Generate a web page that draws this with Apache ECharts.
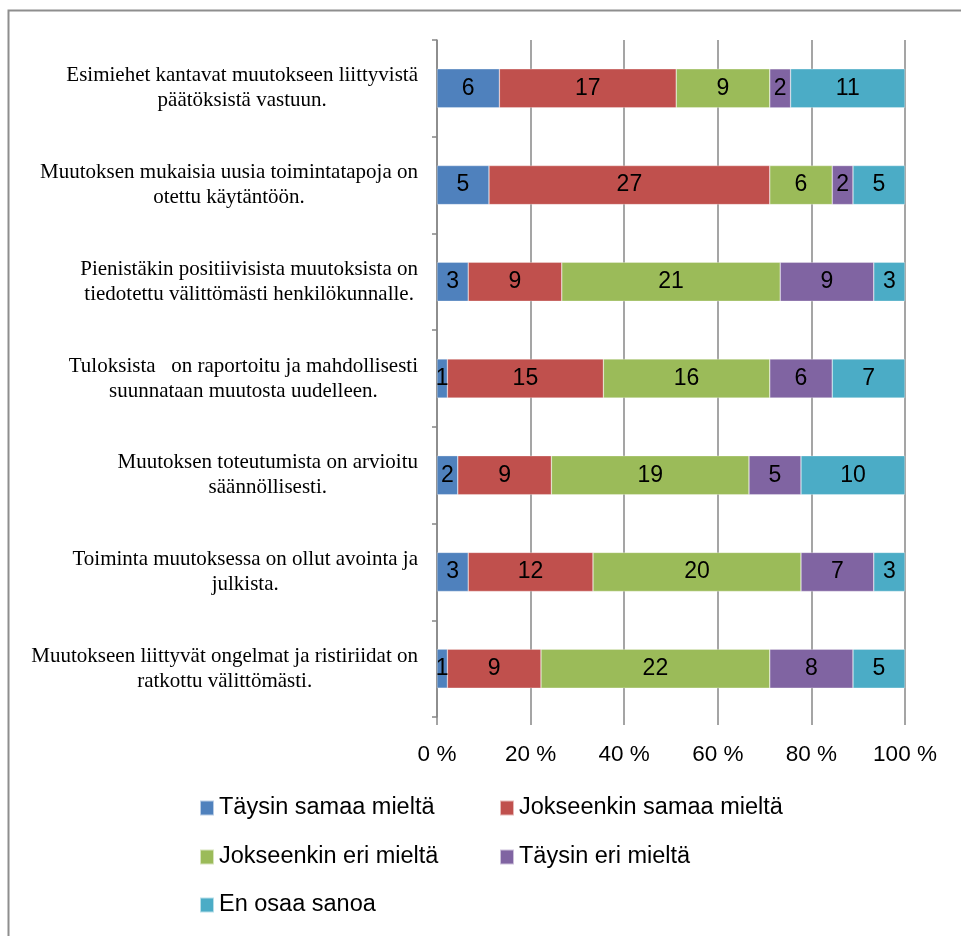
<!DOCTYPE html>
<html>
<head>
<meta charset="utf-8">
<script src="https://cdn.jsdelivr.net/npm/echarts@6/dist/echarts.min.js"></script>
<style>
  html, body { margin: 0; padding: 0; background: #fff; }
  #app { width: 961px; height: 936px; }
</style>
</head>
<body>
<div id="app"></div>
<script>
// statements, top to bottom
var categories = [
    'Esimiehet kantavat muutokseen liittyvistä\npäätöksistä vastuun.',
    'Muutoksen mukaisia uusia toimintatapoja on\notettu käytäntöön.',
    'Pienistäkin positiivisista muutoksista on\ntiedotettu välittömästi henkilökunnalle.',
    'Tuloksista   on raportoitu ja mahdollisesti\nsuunnataan muutosta uudelleen.',
    'Muutoksen toteutumista on arvioitu\nsäännöllisesti.',
    'Toiminta muutoksessa on ollut avointa ja\njulkista.',
    'Muutokseen liittyvät ongelmat ja ristiriidat on\nratkottu välittömästi.'
];

var seriesNames = ['Täysin samaa mieltä', 'Jokseenkin samaa mieltä', 'Jokseenkin eri mieltä', 'Täysin eri mieltä', 'En osaa sanoa'];
var colors = ['#4F81BD', '#C0504D', '#9BBB59', '#8064A2', '#4BACC6'];

// answer counts per statement
var taysinSamaa     = [6, 5, 3, 1, 2, 3, 1];
var jokseenkinSamaa = [17, 27, 9, 15, 9, 12, 9];
var jokseenkinEri   = [9, 6, 21, 16, 19, 20, 22];
var taysinEri       = [2, 2, 9, 6, 5, 7, 8];
var enOsaa          = [11, 5, 3, 7, 10, 3, 5];

var xTicks = [0, 20, 40, 60, 80, 100];

var counts = [taysinSamaa, jokseenkinSamaa, jokseenkinEri, taysinEri, enOsaa];

// totals for the 100 % stack
var totals = categories.map(function (c, i) {
    var s = 0;
    counts.forEach(function (arr) { s += arr[i]; });
    return s;
});

var textFont = 'Liberation Sans';

var series = counts.map(function (arr, k) {
    return {
        name: seriesNames[k],
        type: 'bar',
        stack: 'total',
        barWidth: 39,
        itemStyle: {
            color: colors[k],
            borderColor: 'rgba(255,255,255,0.6)',
            borderWidth: 0.5
        },
        label: {
            show: true,
            position: 'inside',
            color: '#000',
            fontFamily: textFont,
            fontSize: 23,
            formatter: function (p) {
                return arr[p.dataIndex];
            }
        },
        data: arr.map(function (v, i) { return v / totals[i] * 100; })
    };
});

var legendPos = [[199, 796], [499, 796], [199, 845], [499, 845], [199, 893]];
var legends = seriesNames.map(function (n, k) {
    return {
        data: [n],
        left: legendPos[k][0],
        top: legendPos[k][1],
        padding: 0,
        itemWidth: 14,
        itemHeight: 15,
        icon: 'rect',
        selectedMode: false,
        textStyle: {
            color: '#000',
            fontFamily: textFont,
            fontSize: 23.5
        }
    };
});

var myChart = echarts.init(document.getElementById('app'));

var option = {
    backgroundColor: '#fff',
    animation: false,
    color: colors,
    graphic: [{
        type: 'rect',
        shape: { x: 8.5, y: 10.5, width: 1000, height: 1000 },
        style: { fill: 'none', stroke: '#8e8e8e', lineWidth: 2 },
        silent: true
    }],
    legend: legends,
    grid: {
        left: 437,
        right: 56,
        top: 40,
        bottom: 219
    },
    xAxis: {
        type: 'value',
        min: xTicks[0],
        max: xTicks[xTicks.length - 1],
        interval: 20,
        axisLine: { show: false },
        axisTick: {
            show: true,
            length: 8,
            lineStyle: { color: '#878787', width: 1.5 }
        },
        splitLine: {
            show: true,
            lineStyle: { color: '#878787', width: 1.5 }
        },
        axisLabel: {
            color: '#000',
            fontFamily: textFont,
            fontSize: 22.5,
            margin: 26,
            formatter: '{value} %'
        }
    },
    yAxis: {
        type: 'category',
        inverse: true,
        data: categories,
        axisLine: {
            show: true,
            lineStyle: { color: '#878787', width: 1.5 }
        },
        axisTick: {
            show: true,
            length: 5,
            lineStyle: { color: '#878787', width: 1.5 }
        },
        axisLabel: {
            margin: 19,
            color: '#000',
            formatter: function (value) {
                return value.split('\n').map(function (s) {
                    return '{c|' + s + '}';
                }).join('\n');
            },
            rich: {
                c: {
                    align: 'center',
                    fontFamily: 'Liberation Serif',
                    fontSize: 21,
                    lineHeight: 25,
                    color: '#000'
                }
            }
        }
    },
    series: series
};

myChart.setOption(option);
</script>
</body>
</html>
